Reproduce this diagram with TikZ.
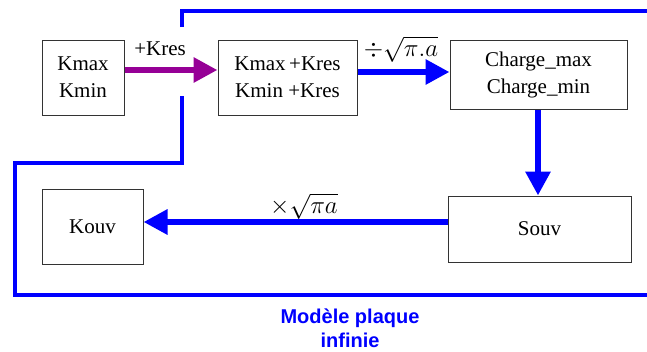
\documentclass[tikz,border=0pt]{standalone}
\usepackage{fontspec}
\setmainfont{Liberation Serif}
\newfontfamily\labelsans{Liberation Sans}
\usetikzlibrary{arrows.meta}
\definecolor{pblue}{RGB}{0,0,255}
\definecolor{ppurple}{RGB}{150,0,150}
\tikzset{
  box/.style={draw=black!80, line width=1pt, align=center, inner sep=0pt,
    font=\fontsize{21}{27}\selectfont},
  flow/.style={line width=6pt, draw=pblue, -{Triangle[length=24pt,width=24pt]}},
  frame/.style={line width=4pt, draw=pblue, line join=miter},
  lbl/.style={inner sep=0pt, font=\fontsize{21}{27}\selectfont},
  mlbl/.style={inner sep=0pt, font=\fontsize{27}{30}\selectfont},
  note/.style={font=\labelsans\bfseries\fontsize{20}{24}\selectfont, text=pblue, inner sep=0pt, anchor=base}
}
\begin{document}
\begin{tikzpicture}[x=1pt,y=-1pt]
\useasboundingbox (0,0) rectangle (647,351);
% frame
\coordinate (f1) at (181.5,27);
\coordinate (f2) at (181.5,11);
\coordinate (f3) at (650,11);
\coordinate (g1) at (181.5,96);
\coordinate (g2) at (181.5,163);
\coordinate (g3) at (15,163);
\coordinate (g4) at (15,295);
\coordinate (g5) at (650,295);
\draw[frame] (f1) -- (f2) -- (f3);
\draw[frame] (g1) -- (g2) -- (g3) -- (g4) -- (g5);
% boxes
\node[box, minimum width=82pt, minimum height=75pt] (b1) at (83,77.5) {Kmax\\Kmin};
\node[box, minimum width=139pt, minimum height=75pt] (b2) at (287.5,77.5) {Kmax\,+Kres\\Kmin +Kres};
\node[box, minimum width=177pt, minimum height=69pt] (b3) at (538.5,74.5) {Charge\_max\\Charge\_min};
\node[box, minimum width=183pt, minimum height=66pt] (b5) at (539.5,229) {Souv};
\node[box, minimum width=101pt, minimum height=75pt] (b4) at (92.5,226.5) {Kouv};
% arrows
\draw[flow, draw=ppurple, fill=ppurple] (b1.east |- 0,70) -- (b2.west |- 0,70);
\draw[flow] (b2.east |- 0,72) -- (b3.west |- 0,72);
\draw[flow] (b3.south -| 538,0) -- (b5.north -| 538,0);
\draw[flow] (b5.west |- 0,222) -- (b4.east |- 0,222);
% labels
\node[lbl, anchor=base] (l1) at (160,55) {+Kres};
\node[mlbl, anchor=base] (l2) at (401,56) {$\div\sqrt{\pi.a}$};
\node[mlbl, anchor=base] (l3) at (304,213) {$\times\sqrt{\pi a}$};
\node[note] (t1) at (350,323) {Modèle plaque};
\node[note] (t2) at (350,347) {infinie};
\end{tikzpicture}
\end{document}
